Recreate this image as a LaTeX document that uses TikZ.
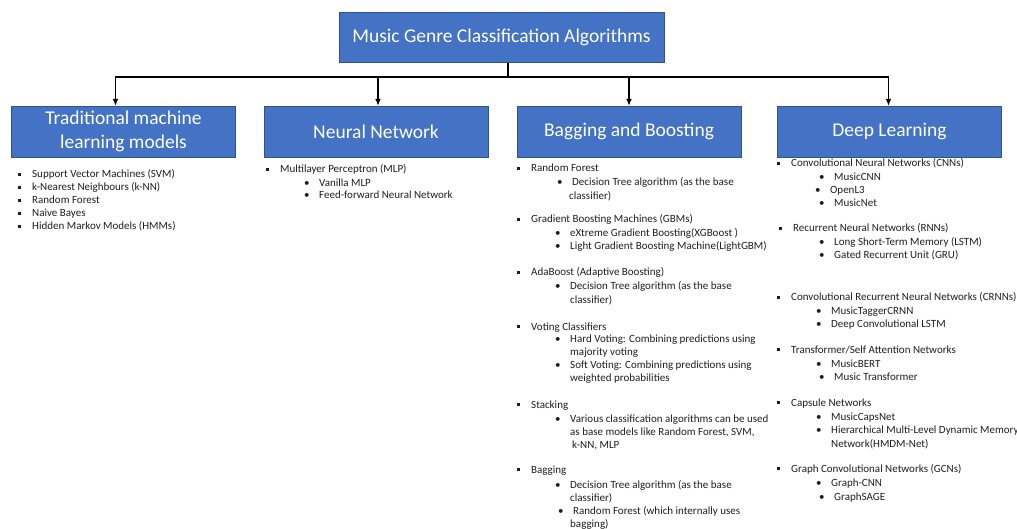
\documentclass[tikz,border=0pt]{standalone}
\usepackage{fontspec}
\usepackage{tikz}
\usepackage{xcolor}
\usetikzlibrary{positioning, arrows.meta}
\setmainfont{Carlito}
\definecolor{boxblue}{RGB}{68, 114, 196}
\definecolor{boxedge}{RGB}{47, 82, 143}
\definecolor{listgray}{RGB}{30, 30, 30}
\newcommand{\headfont}{\fontsize{19.5}{24}\selectfont}
\newcommand{\listfont}{\fontsize{11}{13}\selectfont}
\tikzset{
    rootbox/.style={draw=boxedge, fill=boxblue, text=white, font=\headfont, minimum width=325pt, minimum height=50pt, inner sep=0pt},
    catbox/.style={rootbox, minimum width=224pt, minimum height=51pt, align=center},
    wire/.style={line width=1.3pt, black},
    conn/.style={wire, -{Latex[length=7pt, width=6pt]}},
    listtext/.style={anchor=base west, inner sep=0pt, font=\listfont, text=listgray},
    itema/.style={listtext, execute at begin node={\llap{\rule[1.8pt]{3.2pt}{3.2pt}\hspace{11pt}}}},
    itemb/.style={listtext, execute at begin node={\llap{\textbullet\hspace{9.5pt}}}},
    itemc/.style={listtext}
}

\begin{document}
\begin{tikzpicture}[x=1pt, y=-1pt]
    \useasboundingbox (0,0) rectangle (1017,529);
    % headings
    \node[rootbox] (root) at (501.5,37.5) {Music Genre Classification Algorithms};
    \node[catbox] (trad) at (123.5,131.5) {Traditional machine\\learning models};
    \node[catbox] (neural) at (376,131.5) {Neural Network};
    \node[catbox] (bagging) at (629,131.5) {Bagging and Boosting};
    \node[catbox] (deep) at (889.5,131.5) {Deep Learning};
    % connectors
    \coordinate (bus) at (508,77);
    \draw[wire] (root.south -| bus) -- (bus);
    \foreach \c/\dx in {trad/-8, neural/2, bagging/0, deep/-1}
        \draw[conn] (bus) -| ([xshift=\dx pt]\c.north);
    % traditional models
    \node[itema] (svm) at (32,178) {Support Vector Machines (SVM)};
    \node[itema] (knn) at (32,191) {k-Nearest Neighbours (k-NN)};
    \node[itema] (rf) at (32,204) {Random Forest};
    \node[itema] (nb) at (32,217) {Naive Bayes};
    \node[itema] (hmm) at (32,230) {Hidden Markov Models (HMMs)};
    % neural network
    \node[itema] (mlp) at (280,173) {Multilayer Perceptron (MLP)};
    \node[itemb] (vanilla) at (319,187) {Vanilla MLP};
    \node[itemb] (ffnn) at (319,199) {Feed-forward Neural Network};
    % bagging and boosting
    \node[itema] (brf) at (531,172) {Random Forest};
    \node[itemb] (brfdt) at (572,186) {Decision Tree algorithm (as the base};
    \node[itemc] (brfdt2) at (569,200) {classifier)};
    \node[itema] (gbm) at (531,223) {Gradient Boosting Machines (GBMs)};
    \node[itemb] (xgb) at (570,237) {eXtreme Gradient Boosting(XGBoost )};
    \node[itemb] (lgbm) at (570,250) {Light Gradient Boosting Machine(LightGBM)};
    \node[itema] (ada) at (531,276) {AdaBoost (Adaptive Boosting)};
    \node[itemb] (adadt) at (570,290) {Decision Tree algorithm (as the base};
    \node[itemc] (adadt2) at (570,303) {classifier)};
    \node[itema] (vote) at (531,330) {Voting Classifiers};
    \node[itemb] (hard) at (570,342) {Hard Voting: Combining predictions using};
    \node[itemc] (hard2) at (570,355) {majority voting};
    \node[itemb] (soft) at (570,368) {Soft Voting: Combining predictions using};
    \node[itemc] (soft2) at (570,381) {weighted probabilities};
    \node[itema] (stack) at (531,408) {Stacking};
    \node[itemb] (various) at (570,422) {Various classification algorithms can be used};
    \node[itemc] (various2) at (570,435) {as base models like Random Forest, SVM,};
    \node[itemc] (various3) at (572,448) {k-NN, MLP};
    \node[itema] (bag) at (531,473) {Bagging};
    \node[itemb] (bagdt) at (570,488) {Decision Tree algorithm (as the base};
    \node[itemc] (bagdt2) at (570,501) {classifier)};
    \node[itemb] (bagrf) at (573,514) {Random Forest (which internally uses};
    \node[itemc] (bagrf2) at (570,527) {bagging)};
    % deep learning
    \node[itema] (cnn) at (791,167) {Convolutional Neural Networks (CNNs)};
    \node[itemb] (musiccnn) at (834,181) {MusicCNN};
    \node[itemb] (openl) at (830,194) {OpenL3};
    \node[itemb] (musicnet) at (834,207) {MusicNet};
    \node[itema] (rnn) at (793,232) {Recurrent Neural Networks (RNNs)};
    \node[itemb] (lstm) at (834,246) {Long Short-Term Memory (LSTM)};
    \node[itemb] (gru) at (834,259) {Gated Recurrent Unit (GRU)};
    \node[itema] (crnn) at (791,301) {Convolutional Recurrent Neural Networks (CRNNs)};
    \node[itemb] (tagger) at (831,314) {MusicTaggerCRNN};
    \node[itemb] (dclstm) at (831,327) {Deep Convolutional LSTM};
    \node[itema] (attn) at (791,353) {Transformer/Self Attention Networks};
    \node[itemb] (bert) at (831,367) {MusicBERT};
    \node[itemb] (mtrans) at (834,380) {Music Transformer};
    \node[itema] (caps) at (791,406) {Capsule Networks};
    \node[itemb] (capsnet) at (831,420) {MusicCapsNet};
    \node[itemb] (hmdm) at (831,433) {Hierarchical Multi-Level Dynamic Memory};
    \node[itemc] (hmdm2) at (831,447) {Network(HMDM-Net)};
    \node[itema] (gcn) at (791,472) {Graph Convolutional Networks (GCNs)};
    \node[itemb] (gcnn) at (831,486) {Graph-CNN};
    \node[itemb] (sage) at (834,500) {GraphSAGE};
\end{tikzpicture}
\end{document}
